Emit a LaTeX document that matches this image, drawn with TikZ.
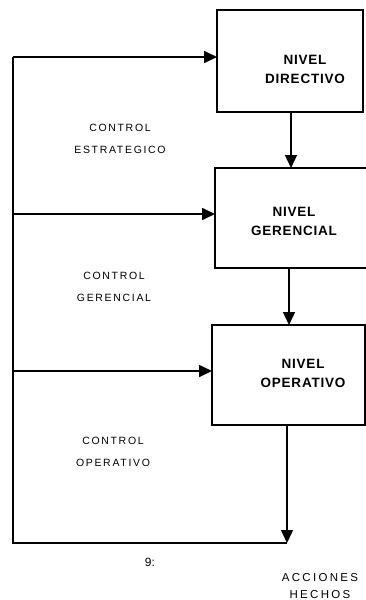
\documentclass[tikz,border=0pt]{standalone}
\usepackage{fontspec}
\setmainfont{Liberation Sans}
\usetikzlibrary{arrows.meta}
\begin{document}
\begin{tikzpicture}[x=1pt,y=-1pt,
  line width=1.7pt,
  tip/.style={-{Triangle[length=13pt,width=12pt]}},
  levelbox/.style={draw, line width=1.9pt},
  boxtext/.style={font=\fontsize{13.5}{19}\selectfont\bfseries\addfontfeature{LetterSpace=6}, align=center},
  ctrltext/.style={font=\fontsize{10.5}{22}\selectfont\addfontfeature{LetterSpace=16}, align=center},
  notetext/.style={font=\fontsize{11.5}{17}\selectfont\addfontfeature{LetterSpace=20}, align=center}]
\useasboundingbox (0,0) rectangle (366,600);

% the three levels
\draw[levelbox] (217,10) rectangle (363,112);
\draw[levelbox] (215,168) rectangle (372,268);
\draw[levelbox] (212,325) rectangle (365,425);
\node[boxtext] (dir) at (305,69) {NIVEL\\DIRECTIVO};
\node[boxtext] (ger) at (294,221) {NIVEL\\GERENCIAL};
\node[boxtext] (ope) at (303,373) {NIVEL\\OPERATIVO};

% box edges used by the connectors
\coordinate (dw) at (217,57);
\coordinate (db) at (291,112);
\coordinate (gt) at (291,168);
\coordinate (gw) at (215,214);
\coordinate (gb) at (289,268);
\coordinate (ot) at (289,325);
\coordinate (ow) at (212,371);
\coordinate (ob) at (287,425);

% feedback loop on the left
\coordinate (top) at (13,57);
\coordinate (mid) at (13,214);
\coordinate (low) at (13,371);
\coordinate (corner) at (13,543);
\coordinate (out) at (287,543);

\draw[tip] (top) -- (dw);
\draw[tip] (mid) -- (gw);
\draw[tip] (low) -- (ow);
\draw (top) -- (corner) -- (out);

% flow between levels
\draw[tip, line width=1.3pt] (db) -- (gt);
\draw[tip, line width=1.3pt] (gb) -- (ot);
\draw[tip, line width=1.3pt] (ob) -- (out);

% labels
\node[ctrltext] (c1) at (120,139) {CONTROL\\ESTRATEGICO};
\node[ctrltext] (c2) at (114,287) {CONTROL\\GERENCIAL};
\node[ctrltext] (c3) at (113,452) {CONTROL\\OPERATIVO};
\node[font=\fontsize{12}{14}\selectfont] (pg) at (150,562) {9:};
\node[notetext] (res) at (320,586) {ACCIONES\\HECHOS};
\end{tikzpicture}
\end{document}
